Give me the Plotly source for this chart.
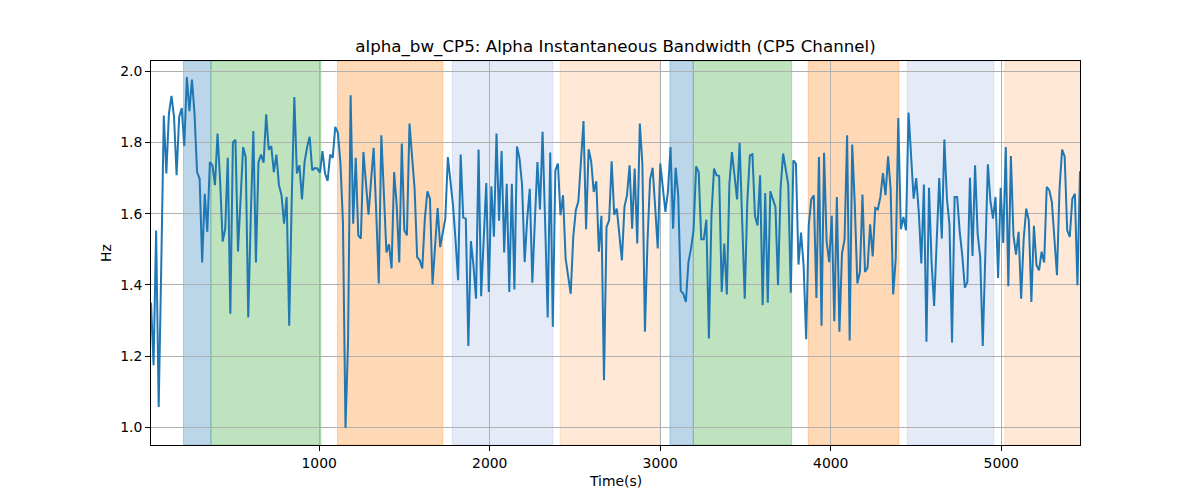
import numpy as np
import plotly.graph_objects as go

# ---- data ----
t_start = 13.5
t_end = 5462.0

bw_values = [
    1.35, 1.174, 1.553, 1.057, 1.45, 1.876, 1.713, 1.881, 1.931, 1.872,
    1.708, 1.872, 1.897, 1.790, 1.984, 1.888, 1.977, 1.881, 1.717, 1.698,
    1.463, 1.656, 1.549, 1.745, 1.736, 1.680, 1.825, 1.694, 1.522, 1.558,
    1.757, 1.319, 1.800, 1.808, 1.494, 1.652, 1.787, 1.759, 1.308, 1.596,
    1.832, 1.463, 1.745, 1.766, 1.743, 1.879, 1.780, 1.790, 1.717, 1.766,
    1.680, 1.652, 1.572, 1.647, 1.285, 1.642, 1.928, 1.713, 1.736, 1.640,
    1.745, 1.787, 1.816, 1.722, 1.728, 1.727, 1.715, 1.776, 1.713, 1.692,
    1.766, 1.757, 1.844, 1.828, 1.745,
    1.577, 0.998, 1.24, 1.933, 1.572, 1.757, 1.539, 1.530, 1.773, 1.680,
    1.597, 1.694, 1.785, 1.605, 1.404, 1.820, 1.642, 1.491, 1.514, 1.446,
    1.717, 1.624, 1.463, 1.797, 1.553, 1.539, 1.853, 1.764, 1.670, 1.478,
    1.469, 1.446, 1.586, 1.663, 1.642, 1.401, 1.506, 1.616, 1.506, 1.544,
    1.586, 1.759, 1.689, 1.624, 1.525, 1.413, 1.766, 1.589, 1.586, 1.228,
    1.523, 1.455, 1.361, 1.780, 1.368, 1.550, 1.686, 1.380, 1.677, 1.535,
    1.825, 1.580, 1.776, 1.491, 1.684, 1.380, 1.684, 1.387, 1.789, 1.755,
    1.680, 1.464, 1.586, 1.670,
    1.406, 1.581, 1.745, 1.612, 1.830, 1.577, 1.308, 1.772, 1.282, 1.722,
    1.741, 1.596, 1.652, 1.474, 1.427, 1.375, 1.535, 1.610, 1.635, 1.764,
    1.860, 1.556, 1.781, 1.747, 1.661, 1.691, 1.493, 1.594, 1.132, 1.563,
    1.581, 1.747, 1.597, 1.614, 1.535, 1.469, 1.619, 1.652, 1.736, 1.558,
    1.727, 1.516, 1.853, 1.741, 1.268, 1.521, 1.696, 1.729, 1.619, 1.502,
    1.741, 1.670, 1.605, 1.663, 1.787, 1.558, 1.729, 1.652, 1.383, 1.375,
    1.352, 1.464, 1.502, 1.553, 1.733, 1.717, 1.528, 1.528, 1.583, 1.249,
    1.596, 1.727, 1.708, 1.706,
    1.380, 1.516, 1.373, 1.684, 1.773, 1.708, 1.640, 1.799, 1.596, 1.361,
    1.633, 1.764, 1.767, 1.593, 1.567, 1.708, 1.343, 1.658, 1.350, 1.663,
    1.640, 1.619, 1.399, 1.670, 1.769, 1.722, 1.682, 1.378, 1.750, 1.741,
    1.457, 1.547, 1.455, 1.247, 1.567, 1.640, 1.652, 1.363, 1.759, 1.285,
    1.771, 1.521, 1.464, 1.594, 1.298, 1.647, 1.268, 1.488, 1.527, 1.820,
    1.244, 1.794, 1.624, 1.404, 1.436, 1.654, 1.436, 1.448, 1.570, 1.480,
    1.616, 1.612, 1.647, 1.714, 1.652, 1.761, 1.670, 1.373, 1.474, 1.869,
    1.556, 1.591, 1.553, 1.884,
    1.755, 1.642, 1.700, 1.605, 1.460, 1.682, 1.240, 1.673, 1.464, 1.341,
    1.521, 1.700, 1.530, 1.808, 1.642, 1.569, 1.238, 1.647, 1.647, 1.549,
    1.483, 1.392, 1.408, 1.701, 1.481, 1.736, 1.544, 1.478, 1.228, 1.511,
    1.739, 1.635, 1.586, 1.647, 1.419, 1.673, 1.518, 1.787, 1.396, 1.762,
    1.539, 1.485, 1.549, 1.361, 1.530, 1.614, 1.581, 1.352, 1.566, 1.455,
    1.441, 1.493, 1.463, 1.675, 1.666, 1.633, 1.530, 1.427, 1.670, 1.780,
    1.761, 1.553, 1.535, 1.642, 1.656, 1.399, 1.719,
]

region_starts = [204, 365, 1107, 1781, 2413, 3057, 3194, 3868, 4449, 5021]
region_ends = [365, 1010, 1725, 2370, 2999, 3194, 3771, 4400, 4957, 5470]
region_colors = [
    "rgba(31,119,180,0.3)", "rgba(44,160,44,0.3)", "rgba(255,127,14,0.3)",
    "rgba(66,110,200,0.14)", "rgba(255,127,14,0.17)",
    "rgba(31,119,180,0.3)", "rgba(44,160,44,0.3)", "rgba(255,127,14,0.3)",
    "rgba(66,110,200,0.14)", "rgba(255,127,14,0.17)",
]

x_ticks = [1000, 2000, 3000, 4000, 5000]
y_ticks = [1.0, 1.2, 1.4, 1.6, 1.8, 2.0]

times = np.linspace(t_start, t_end, len(bw_values))

fig = go.Figure()
for s, e, c in zip(region_starts, region_ends, region_colors):
    fig.add_vrect(x0=s, x1=e, fillcolor=c, line=dict(color=c, width=1), layer="below")

fig.add_trace(go.Scatter(x=times, y=bw_values, mode="lines",
                         line=dict(color="#1f77b4", width=2), showlegend=False))

font_family = "DejaVu Sans"
# page body has an 8px margin, so shift the figure up/left by 8px via margins
fig.update_layout(
    width=1200, height=500,
    margin=dict(l=143, r=128, t=53, b=63),
    paper_bgcolor="white", plot_bgcolor="white",
    font=dict(family=font_family, size=13.9, color="black"),
    title=dict(text="alpha_bw_CP5: Alpha Instantaneous Bandwidth (CP5 Channel)",
               x=0.5, xanchor="center", xref="paper",
               y=1 - 38 / 500, yref="container", yanchor="middle",
               font=dict(family=font_family, size=16.7, color="black")),
)
fig.update_xaxes(range=[t_start, t_end], tickvals=x_ticks, ticktext=[str(v) for v in x_ticks],
                 showgrid=True, gridcolor="#b0b0b0", gridwidth=1,
                 showline=True, linecolor="black", linewidth=1, mirror=True,
                 ticks="outside", ticklen=5, tickcolor="black", zeroline=False)
fig.update_yaxes(range=[0.950, 2.029], tickvals=y_ticks, ticktext=[f"{v:.1f}" for v in y_ticks],
                 showgrid=True, gridcolor="#b0b0b0", gridwidth=1,
                 showline=True, linecolor="black", linewidth=1, mirror=True,
                 ticks="outside", ticklen=5, tickcolor="black", zeroline=False)

fig.add_annotation(text="Time(s)", xref="paper", yref="paper", x=0.5, y=-(481 - 445) / 384,
                   yanchor="middle", showarrow=False, font=dict(family=font_family, size=13.9))
fig.add_annotation(text="Hz", xref="paper", yref="paper", x=-(151 - 106) / 929, y=0.5,
                   xanchor="center", textangle=-90, showarrow=False,
                   font=dict(family=font_family, size=13.9))

fig.write_html("out.html")
